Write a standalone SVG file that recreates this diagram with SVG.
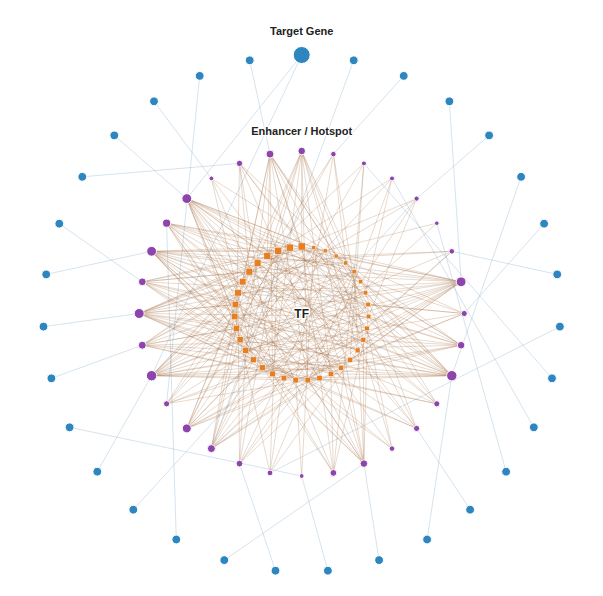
<svg xmlns="http://www.w3.org/2000/svg" width="603" height="596" viewBox="0 0 603 596">
<style>
.g{fill:#2e86c1;stroke:#fff;stroke-width:1}
.e{fill:#8e44ad;stroke:#fff;stroke-width:1}
.t{fill:#e67e22;stroke:#fff;stroke-width:0.4}
.lb{stroke:#a3c0d8;stroke-opacity:.5;stroke-width:.9;fill:none}
.lt{stroke:#a0653a;stroke-opacity:.31;stroke-width:.8;fill:none}
.lab{font-family:"Liberation Sans",Arial,sans-serif;font-weight:bold;font-size:11px;fill:#222;text-anchor:middle;paint-order:stroke;stroke:#fff;stroke-width:3;stroke-linejoin:round}
</style>
<rect width="603" height="596" fill="#fff"/>
<g id="connectors">
<g id="gene-links" class="lb">
<path d="M301.7 55L186.8 198.6M301.7 55L151.6 375.7M353.7 60.3L211.4 448.6M403.7 75.9L333.4 154.1M449.4 101.3L461.1 281.8M489.1 135.4L416.6 198.6M521.1 176.8L451.8 375.7M544.1 223.7L464.2 313.5M557.2 274.4L451.8 251.3M559.9 326.6L270 472.9M552 378.3L363.9 163.4M533.8 427.3L392 178.4M506.1 471.7L436.8 223.2M470.1 509.7L416.6 428.4M427.1 539.5L451.8 375.7M379.1 560.1L363.9 463.6M327.9 570.7L301.7 476M275.5 570.7L239.5 463.6M224.3 560.1L363.9 463.6M176.3 539.5L166.6 223.2M133.3 509.7L416.6 198.6M97.3 471.7L151.6 375.7M69.6 427.3L301.7 476M51.4 378.3L142.3 345.2M43.5 326.6L139.2 313.5M46.2 274.4L151.6 251.3M59.3 223.7L142.3 281.8M82.3 176.8L239.5 163.4M114.3 135.4L186.8 198.6M154 101.3L211.4 178.4M199.7 75.9L166.6 403.8M249.7 60.3L270 154.1"/>
</g>
<g id="tf-links" class="lt">
<path d="M301.7 151L301.7 246.5M301.7 151L336.1 256M301.7 151L360.7 281.7M301.7 151L368.6 316.5M301.7 151L357.6 350.4M301.7 151L330.8 373.9M301.7 151L307.7 380.2M301.7 151L272.6 373.9M301.7 151L245.8 350.4M301.7 151L234.8 316.5M301.7 151L242.7 281.7M301.7 151L267.3 256"/>
<path d="M333.4 154.1L363.3 339.8M333.4 154.1L295.7 380.2M333.4 154.1L236.4 328.4M333.4 154.1L267.3 256M333.4 154.1L345.8 263"/>
<path d="M363.9 163.4L253.3 359.8M363.9 163.4L257.6 263M363.9 163.4L354.1 271.7M363.9 163.4L350.1 359.8"/>
<path d="M392 178.4L278.2 250.8M392 178.4L365.4 292.8M392 178.4L319.5 378.1M392 178.4L240.1 339.8"/>
<path d="M416.6 198.6L368.6 316.5M416.6 198.6L295.7 380.2M416.6 198.6L235.3 304.5M416.6 198.6L301.7 246.5"/>
<path d="M436.8 223.2L272.6 373.9M436.8 223.2L325.2 250.8"/>
<path d="M451.8 251.3L257.6 263M451.8 251.3L336.1 256M451.8 251.3L367 328.4M451.8 251.3L307.7 380.2M451.8 251.3L240.1 339.8"/>
<path d="M461.1 281.8L365.4 292.8M461.1 281.8L368.6 316.5M461.1 281.8L363.3 339.8M461.1 281.8L350.1 359.8M461.1 281.8L330.8 373.9M461.1 281.8L307.7 380.2M461.1 281.8L283.9 378.1M461.1 281.8L262.3 367.7M461.1 281.8L245.8 350.4M461.1 281.8L240.1 339.8M461.1 281.8L234.8 316.5M461.1 281.8L238 292.8M461.1 281.8L249.3 271.7M461.1 281.8L267.3 256M461.1 281.8L289.7 247.6M461.1 281.8L313.7 247.6M461.1 281.8L336.1 256M461.1 281.8L354.1 271.7"/>
<path d="M464.2 313.5L295.7 380.2M464.2 313.5L245.8 350.4M464.2 313.5L238 292.8M464.2 313.5L278.2 250.8M464.2 313.5L336.1 256M464.2 313.5L368.1 304.5M464.2 313.5L350.1 359.8"/>
<path d="M461.1 345.2L242.7 281.7M461.1 345.2L267.3 256M461.1 345.2L301.7 246.5M461.1 345.2L336.1 256M461.1 345.2L360.7 281.7M461.1 345.2L368.6 316.5M461.1 345.2L363.3 339.8M461.1 345.2L341.1 367.7M461.1 345.2L307.7 380.2M461.1 345.2L272.6 373.9M461.1 345.2L245.8 350.4M461.1 345.2L234.8 316.5"/>
<path d="M451.8 375.7L354.1 271.7M451.8 375.7L365.4 292.8M451.8 375.7L368.6 316.5M451.8 375.7L363.3 339.8M451.8 375.7L350.1 359.8M451.8 375.7L330.8 373.9M451.8 375.7L307.7 380.2M451.8 375.7L283.9 378.1M451.8 375.7L262.3 367.7M451.8 375.7L253.3 359.8M451.8 375.7L240.1 339.8M451.8 375.7L234.8 316.5M451.8 375.7L238 292.8M451.8 375.7L249.3 271.7M451.8 375.7L267.3 256M451.8 375.7L289.7 247.6M451.8 375.7L313.7 247.6M451.8 375.7L336.1 256"/>
<path d="M436.8 403.8L319.5 378.1M436.8 403.8L262.3 367.7M436.8 403.8L234.8 316.5M436.8 403.8L257.6 263M436.8 403.8L313.7 247.6M436.8 403.8L360.7 281.7M436.8 403.8L363.3 339.8"/>
<path d="M416.6 428.4L235.3 304.5M416.6 428.4L267.3 256M416.6 428.4L325.2 250.8M416.6 428.4L365.4 292.8M416.6 428.4L357.6 350.4M416.6 428.4L307.7 380.2M416.6 428.4L253.3 359.8"/>
<path d="M392 448.6L336.1 256M392 448.6L367 328.4M392 448.6L307.7 380.2M392 448.6L240.1 339.8M392 448.6L257.6 263"/>
<path d="M363.9 463.6L341.1 367.7M363.9 463.6L307.7 380.2M363.9 463.6L272.6 373.9M363.9 463.6L245.8 350.4M363.9 463.6L234.8 316.5M363.9 463.6L242.7 281.7M363.9 463.6L257.6 263M363.9 463.6L289.7 247.6M363.9 463.6L325.2 250.8M363.9 463.6L354.1 271.7M363.9 463.6L368.1 304.5M363.9 463.6L363.3 339.8"/>
<path d="M333.4 472.9L236.4 328.4M333.4 472.9L249.3 271.7M333.4 472.9L301.7 246.5M333.4 472.9L354.1 271.7M333.4 472.9L367 328.4M333.4 472.9L330.8 373.9M333.4 472.9L272.6 373.9"/>
<path d="M301.7 476L313.7 247.6M301.7 476L295.7 380.2"/>
<path d="M270 472.9L357.6 350.4M270 472.9L283.9 378.1M270 472.9L234.8 316.5M270 472.9L278.2 250.8M270 472.9L354.1 271.7"/>
<path d="M239.5 463.6L245.8 350.4M239.5 463.6L238 292.8M239.5 463.6L278.2 250.8M239.5 463.6L336.1 256M239.5 463.6L368.1 304.5M239.5 463.6L350.1 359.8M239.5 463.6L295.7 380.2"/>
<path d="M211.4 448.6L289.7 247.6M211.4 448.6L325.2 250.8M211.4 448.6L354.1 271.7M211.4 448.6L368.1 304.5M211.4 448.6L363.3 339.8M211.4 448.6L341.1 367.7M211.4 448.6L319.5 378.1M211.4 448.6L283.9 378.1M211.4 448.6L253.3 359.8M211.4 448.6L236.4 328.4M211.4 448.6L238 292.8M211.4 448.6L257.6 263"/>
<path d="M186.8 428.4L367 328.4M186.8 428.4L350.1 359.8M186.8 428.4L319.5 378.1M186.8 428.4L283.9 378.1M186.8 428.4L253.3 359.8M186.8 428.4L236.4 328.4M186.8 428.4L235.3 304.5M186.8 428.4L249.3 271.7M186.8 428.4L278.2 250.8M186.8 428.4L313.7 247.6M186.8 428.4L345.8 263M186.8 428.4L365.4 292.8"/>
<path d="M166.6 403.8L262.3 367.7M166.6 403.8L234.8 316.5M166.6 403.8L257.6 263M166.6 403.8L313.7 247.6M166.6 403.8L360.7 281.7M166.6 403.8L363.3 339.8M166.6 403.8L319.5 378.1"/>
<path d="M151.6 375.7L267.3 256M151.6 375.7L289.7 247.6M151.6 375.7L313.7 247.6M151.6 375.7L336.1 256M151.6 375.7L354.1 271.7M151.6 375.7L365.4 292.8M151.6 375.7L368.6 316.5M151.6 375.7L363.3 339.8M151.6 375.7L350.1 359.8M151.6 375.7L341.1 367.7M151.6 375.7L319.5 378.1M151.6 375.7L295.7 380.2M151.6 375.7L272.6 373.9M151.6 375.7L253.3 359.8M151.6 375.7L240.1 339.8M151.6 375.7L234.8 316.5M151.6 375.7L238 292.8M151.6 375.7L249.3 271.7"/>
<path d="M142.3 345.2L368.1 304.5M142.3 345.2L363.3 339.8M142.3 345.2L341.1 367.7M142.3 345.2L307.7 380.2M142.3 345.2L272.6 373.9M142.3 345.2L245.8 350.4M142.3 345.2L236.4 328.4M142.3 345.2L238 292.8M142.3 345.2L257.6 263M142.3 345.2L289.7 247.6M142.3 345.2L325.2 250.8M142.3 345.2L354.1 271.7"/>
<path d="M139.2 313.5L283.9 378.1M139.2 313.5L262.3 367.7M139.2 313.5L245.8 350.4M139.2 313.5L236.4 328.4M139.2 313.5L235.3 304.5M139.2 313.5L242.7 281.7M139.2 313.5L257.6 263M139.2 313.5L278.2 250.8M139.2 313.5L301.7 246.5M139.2 313.5L313.7 247.6M139.2 313.5L336.1 256M139.2 313.5L354.1 271.7M139.2 313.5L365.4 292.8M139.2 313.5L368.6 316.5M139.2 313.5L363.3 339.8M139.2 313.5L350.1 359.8M139.2 313.5L330.8 373.9M139.2 313.5L307.7 380.2"/>
<path d="M142.3 281.8L249.3 271.7M142.3 281.8L278.2 250.8M142.3 281.8L313.7 247.6M142.3 281.8L345.8 263M142.3 281.8L365.4 292.8M142.3 281.8L367 328.4M142.3 281.8L357.6 350.4M142.3 281.8L330.8 373.9M142.3 281.8L295.7 380.2M142.3 281.8L262.3 367.7M142.3 281.8L240.1 339.8M142.3 281.8L235.3 304.5"/>
<path d="M151.6 251.3L360.7 281.7M151.6 251.3L368.1 304.5M151.6 251.3L367 328.4M151.6 251.3L357.6 350.4M151.6 251.3L341.1 367.7M151.6 251.3L319.5 378.1M151.6 251.3L295.7 380.2M151.6 251.3L272.6 373.9M151.6 251.3L253.3 359.8M151.6 251.3L245.8 350.4M151.6 251.3L236.4 328.4M151.6 251.3L235.3 304.5M151.6 251.3L242.7 281.7M151.6 251.3L257.6 263M151.6 251.3L278.2 250.8M151.6 251.3L301.7 246.5M151.6 251.3L325.2 250.8M151.6 251.3L345.8 263"/>
<path d="M166.6 223.2L307.7 380.2M166.6 223.2L272.6 373.9M166.6 223.2L245.8 350.4M166.6 223.2L234.8 316.5M166.6 223.2L242.7 281.7M166.6 223.2L267.3 256M166.6 223.2L289.7 247.6M166.6 223.2L325.2 250.8M166.6 223.2L354.1 271.7M166.6 223.2L368.1 304.5M166.6 223.2L363.3 339.8M166.6 223.2L341.1 367.7"/>
<path d="M186.8 198.6L238 292.8M186.8 198.6L249.3 271.7M186.8 198.6L267.3 256M186.8 198.6L289.7 247.6M186.8 198.6L313.7 247.6M186.8 198.6L336.1 256M186.8 198.6L354.1 271.7M186.8 198.6L365.4 292.8M186.8 198.6L368.6 316.5M186.8 198.6L367 328.4M186.8 198.6L357.6 350.4M186.8 198.6L341.1 367.7M186.8 198.6L319.5 378.1M186.8 198.6L295.7 380.2M186.8 198.6L272.6 373.9M186.8 198.6L253.3 359.8M186.8 198.6L240.1 339.8M186.8 198.6L234.8 316.5"/>
<path d="M211.4 178.4L345.8 263M211.4 178.4L350.1 359.8M211.4 178.4L253.3 359.8M211.4 178.4L249.3 271.7"/>
<path d="M239.5 163.4L330.8 373.9M239.5 163.4L272.6 373.9M239.5 163.4L236.4 328.4M239.5 163.4L249.3 271.7M239.5 163.4L301.7 246.5M239.5 163.4L354.1 271.7M239.5 163.4L367 328.4"/>
<path d="M270 154.1L234.8 316.5M270 154.1L242.7 281.7M270 154.1L267.3 256M270 154.1L301.7 246.5M270 154.1L336.1 256M270 154.1L360.7 281.7M270 154.1L368.1 304.5M270 154.1L363.3 339.8M270 154.1L341.1 367.7M270 154.1L307.7 380.2M270 154.1L272.6 373.9M270 154.1L245.8 350.4"/>
</g>
</g>
<g id="genes">
<g id="gene0"><circle class="g" cx="301.7" cy="55" r="8.5"/></g>
<g id="gene1"><circle class="g" cx="353.7" cy="60.3" r="4.4"/></g>
<g id="gene2"><circle class="g" cx="403.7" cy="75.9" r="4.4"/></g>
<g id="gene3"><circle class="g" cx="449.4" cy="101.3" r="4.4"/></g>
<g id="gene4"><circle class="g" cx="489.1" cy="135.4" r="4.4"/></g>
<g id="gene5"><circle class="g" cx="521.1" cy="176.8" r="4.4"/></g>
<g id="gene6"><circle class="g" cx="544.1" cy="223.7" r="4.4"/></g>
<g id="gene7"><circle class="g" cx="557.2" cy="274.4" r="4.4"/></g>
<g id="gene8"><circle class="g" cx="559.9" cy="326.6" r="4.4"/></g>
<g id="gene9"><circle class="g" cx="552" cy="378.3" r="4.4"/></g>
<g id="gene10"><circle class="g" cx="533.8" cy="427.3" r="4.4"/></g>
<g id="gene11"><circle class="g" cx="506.1" cy="471.7" r="4.4"/></g>
<g id="gene12"><circle class="g" cx="470.1" cy="509.7" r="4.4"/></g>
<g id="gene13"><circle class="g" cx="427.1" cy="539.5" r="4.4"/></g>
<g id="gene14"><circle class="g" cx="379.1" cy="560.1" r="4.4"/></g>
<g id="gene15"><circle class="g" cx="327.9" cy="570.7" r="4.4"/></g>
<g id="gene16"><circle class="g" cx="275.5" cy="570.7" r="4.4"/></g>
<g id="gene17"><circle class="g" cx="224.3" cy="560.1" r="4.4"/></g>
<g id="gene18"><circle class="g" cx="176.3" cy="539.5" r="4.4"/></g>
<g id="gene19"><circle class="g" cx="133.3" cy="509.7" r="4.4"/></g>
<g id="gene20"><circle class="g" cx="97.3" cy="471.7" r="4.4"/></g>
<g id="gene21"><circle class="g" cx="69.6" cy="427.3" r="4.4"/></g>
<g id="gene22"><circle class="g" cx="51.4" cy="378.3" r="4.4"/></g>
<g id="gene23"><circle class="g" cx="43.5" cy="326.6" r="4.4"/></g>
<g id="gene24"><circle class="g" cx="46.2" cy="274.4" r="4.4"/></g>
<g id="gene25"><circle class="g" cx="59.3" cy="223.7" r="4.4"/></g>
<g id="gene26"><circle class="g" cx="82.3" cy="176.8" r="4.4"/></g>
<g id="gene27"><circle class="g" cx="114.3" cy="135.4" r="4.4"/></g>
<g id="gene28"><circle class="g" cx="154" cy="101.3" r="4.4"/></g>
<g id="gene29"><circle class="g" cx="199.7" cy="75.9" r="4.4"/></g>
<g id="gene30"><circle class="g" cx="249.7" cy="60.3" r="4.4"/></g>
</g>
<g id="enhancers">
<g id="enh0"><circle class="e" cx="301.7" cy="151" r="3.8"/></g>
<g id="enh1"><circle class="e" cx="333.4" cy="154.1" r="2.8"/></g>
<g id="enh2"><circle class="e" cx="363.9" cy="163.4" r="2.5"/></g>
<g id="enh3"><circle class="e" cx="392" cy="178.4" r="2.5"/></g>
<g id="enh4"><circle class="e" cx="416.6" cy="198.6" r="2.6"/></g>
<g id="enh5"><circle class="e" cx="436.8" cy="223.2" r="2.3"/></g>
<g id="enh6"><circle class="e" cx="451.8" cy="251.3" r="2.8"/></g>
<g id="enh7"><circle class="e" cx="461.1" cy="281.8" r="4.9"/></g>
<g id="enh8"><circle class="e" cx="464.2" cy="313.5" r="3.1"/></g>
<g id="enh9"><circle class="e" cx="461.1" cy="345.2" r="3.8"/></g>
<g id="enh10"><circle class="e" cx="451.8" cy="375.7" r="5.2"/></g>
<g id="enh11"><circle class="e" cx="436.8" cy="403.8" r="3.1"/></g>
<g id="enh12"><circle class="e" cx="416.6" cy="428.4" r="3.1"/></g>
<g id="enh13"><circle class="e" cx="392" cy="448.6" r="2.8"/></g>
<g id="enh14"><circle class="e" cx="363.9" cy="463.6" r="3.8"/></g>
<g id="enh15"><circle class="e" cx="333.4" cy="472.9" r="3.4"/></g>
<g id="enh16"><circle class="e" cx="301.7" cy="476" r="2.4"/></g>
<g id="enh17"><circle class="e" cx="270" cy="472.9" r="2.9"/></g>
<g id="enh18"><circle class="e" cx="239.5" cy="463.6" r="3.4"/></g>
<g id="enh19"><circle class="e" cx="211.4" cy="448.6" r="4"/></g>
<g id="enh20"><circle class="e" cx="186.8" cy="428.4" r="4.5"/></g>
<g id="enh21"><circle class="e" cx="166.6" cy="403.8" r="3.1"/></g>
<g id="enh22"><circle class="e" cx="151.6" cy="375.7" r="5.2"/></g>
<g id="enh23"><circle class="e" cx="142.3" cy="345.2" r="4"/></g>
<g id="enh24"><circle class="e" cx="139.2" cy="313.5" r="5"/></g>
<g id="enh25"><circle class="e" cx="142.3" cy="281.8" r="3.9"/></g>
<g id="enh26"><circle class="e" cx="151.6" cy="251.3" r="4.9"/></g>
<g id="enh27"><circle class="e" cx="166.6" cy="223.2" r="4.1"/></g>
<g id="enh28"><circle class="e" cx="186.8" cy="198.6" r="4.9"/></g>
<g id="enh29"><circle class="e" cx="211.4" cy="178.4" r="2.4"/></g>
<g id="enh30"><circle class="e" cx="239.5" cy="163.4" r="3.2"/></g>
<g id="enh31"><circle class="e" cx="270" cy="154.1" r="4"/></g>
</g>
<g id="tfs">
<g id="tf0"><rect class="t" x="298.15" y="242.95" width="7.1" height="7.1"/></g>
<g id="tf1"><rect class="t" x="311.85" y="245.75" width="3.7" height="3.7"/></g>
<g id="tf2"><rect class="t" x="323.3" y="248.9" width="3.8" height="3.8"/></g>
<g id="tf3"><rect class="t" x="334.15" y="254.05" width="3.9" height="3.9"/></g>
<g id="tf4"><rect class="t" x="343.8" y="261" width="4" height="4"/></g>
<g id="tf5"><rect class="t" x="352.05" y="269.65" width="4.1" height="4.1"/></g>
<g id="tf6"><rect class="t" x="358.6" y="279.6" width="4.2" height="4.2"/></g>
<g id="tf7"><rect class="t" x="363.25" y="290.65" width="4.3" height="4.3"/></g>
<g id="tf8"><rect class="t" x="365.9" y="302.3" width="4.4" height="4.4"/></g>
<g id="tf9"><rect class="t" x="366.35" y="314.25" width="4.5" height="4.5"/></g>
<g id="tf10"><rect class="t" x="364.7" y="326.1" width="4.6" height="4.6"/></g>
<g id="tf11"><rect class="t" x="360.95" y="337.45" width="4.7" height="4.7"/></g>
<g id="tf12"><rect class="t" x="355.2" y="348" width="4.8" height="4.8"/></g>
<g id="tf13"><rect class="t" x="347.65" y="357.35" width="4.9" height="4.9"/></g>
<g id="tf14"><rect class="t" x="338.6" y="365.2" width="5" height="5"/></g>
<g id="tf15"><rect class="t" x="328.25" y="371.35" width="5.1" height="5.1"/></g>
<g id="tf16"><rect class="t" x="316.9" y="375.5" width="5.2" height="5.2"/></g>
<g id="tf17"><rect class="t" x="305.05" y="377.55" width="5.3" height="5.3"/></g>
<g id="tf18"><rect class="t" x="293" y="377.5" width="5.4" height="5.4"/></g>
<g id="tf19"><rect class="t" x="281.15" y="375.35" width="5.5" height="5.5"/></g>
<g id="tf20"><rect class="t" x="269.8" y="371.1" width="5.6" height="5.6"/></g>
<g id="tf21"><rect class="t" x="259.45" y="364.85" width="5.7" height="5.7"/></g>
<g id="tf22"><rect class="t" x="250.4" y="356.9" width="5.8" height="5.8"/></g>
<g id="tf23"><rect class="t" x="242.85" y="347.45" width="5.9" height="5.9"/></g>
<g id="tf24"><rect class="t" x="237.1" y="336.8" width="6" height="6"/></g>
<g id="tf25"><rect class="t" x="233.35" y="325.35" width="6.1" height="6.1"/></g>
<g id="tf26"><rect class="t" x="231.7" y="313.4" width="6.2" height="6.2"/></g>
<g id="tf27"><rect class="t" x="232.15" y="301.35" width="6.3" height="6.3"/></g>
<g id="tf28"><rect class="t" x="234.8" y="289.6" width="6.4" height="6.4"/></g>
<g id="tf29"><rect class="t" x="239.45" y="278.45" width="6.5" height="6.5"/></g>
<g id="tf30"><rect class="t" x="246" y="268.4" width="6.6" height="6.6"/></g>
<g id="tf31"><rect class="t" x="254.25" y="259.65" width="6.7" height="6.7"/></g>
<g id="tf32"><rect class="t" x="263.9" y="252.6" width="6.8" height="6.8"/></g>
<g id="tf33"><rect class="t" x="274.75" y="247.35" width="6.9" height="6.9"/></g>
<g id="tf34"><rect class="t" x="286.2" y="244.1" width="7" height="7"/></g>
</g>
<g id="labels">
<text class="lab" x="301.7" y="35">Target Gene</text>
<text class="lab" x="301.7" y="135">Enhancer / Hotspot</text>
<text class="lab" x="301.7" y="318" style="font-size:12px">TF</text>
</g>
</svg>
